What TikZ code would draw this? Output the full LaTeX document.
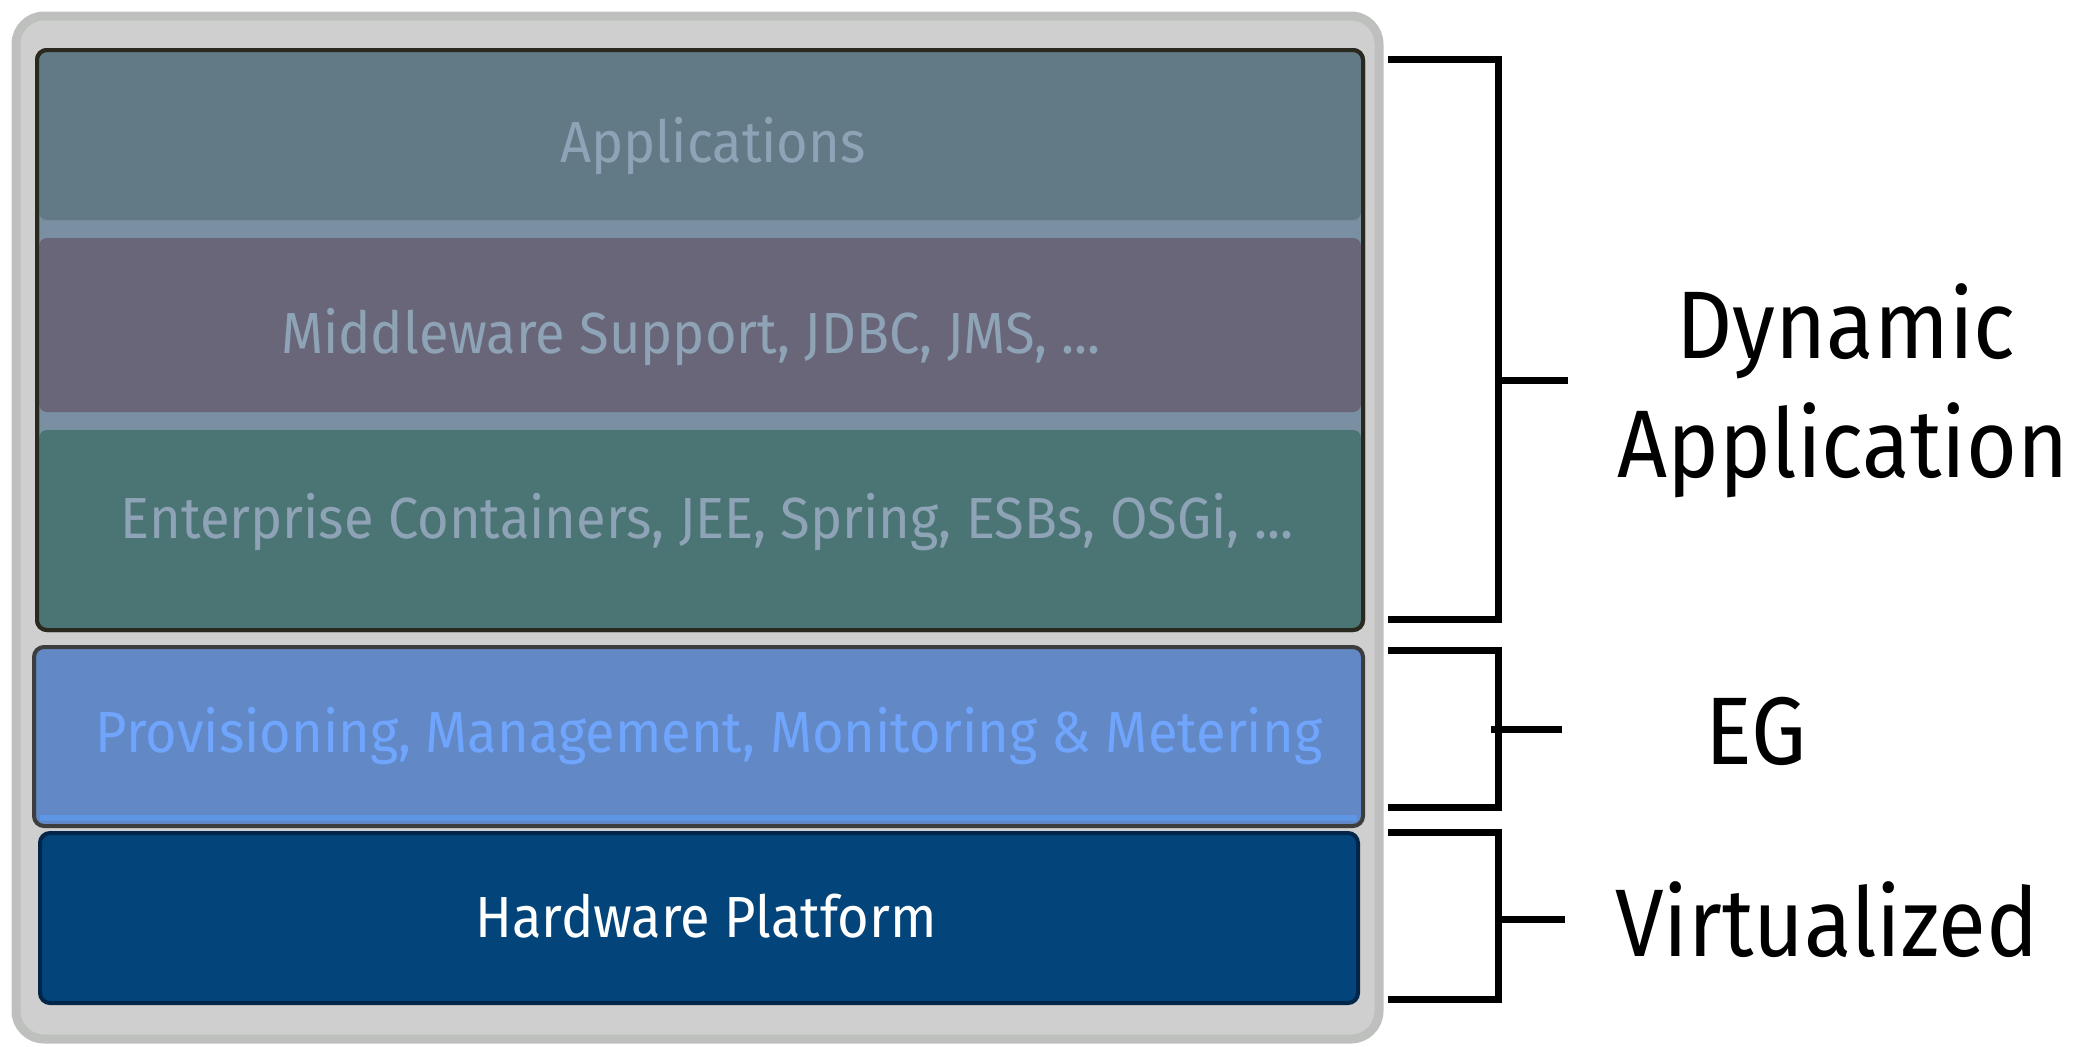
\documentclass[tikz,border=0pt]{standalone}
\usepackage{fontspec}
\setmainfont{Fira Sans}
\newfontfamily\boxfont[FakeStretch=0.935]{Fira Sans}
\newfontfamily\sidefont[FakeStretch=0.91]{Fira Sans}
\definecolor{outerfill}{HTML}{CFCFCF}
\definecolor{outerline}{HTML}{BEC0BE}
\definecolor{frameline}{HTML}{2A2920}
\definecolor{framefill}{HTML}{7B8FA3}
\definecolor{appfill}{HTML}{627986}
\definecolor{midfill}{HTML}{69667A}
\definecolor{entfill}{HTML}{4B7574}
\definecolor{paletext}{HTML}{8FA3B7}
\definecolor{provfill}{HTML}{6288C5}
\definecolor{provline}{HTML}{3D3D3D}
\definecolor{provhi}{HTML}{5E96E6}
\definecolor{provtext}{HTML}{6FA5FC}
\definecolor{hwfill}{HTML}{03457A}
\definecolor{hwline}{HTML}{02264A}
\begin{document}
\begin{tikzpicture}[x=0.5pt,y=-0.5pt,
  boxtext/.style={anchor=base, inner sep=0pt, font=\boxfont\fontsize{29}{30}\selectfont},
  sidetext/.style={anchor=base, inner sep=0pt, font=\sidefont\fontsize{48}{50}\selectfont},
  brace/.style={line width=3.5pt, black}]
\useasboundingbox (0,0) rectangle (2077,1046);
% outer panel
\draw[fill=outerfill, draw=outerline, line width=4.5pt, rounded corners=14pt] (16,16) rectangle (1379,1039);
% application frame
\draw[fill=framefill, draw=frameline, line width=2pt, rounded corners=5pt] (37,50) rectangle (1363,630);
\fill[appfill, rounded corners=4pt] (39,52) rectangle (1361,220);
\fill[midfill, rounded corners=4pt] (39,238) rectangle (1361,412);
\fill[entfill, rounded corners=4pt] (39,430) rectangle (1361,628);
\draw[frameline, line width=2pt, rounded corners=5pt] (37,50) rectangle (1363,630);
\node[boxtext, text=paletext] (apps) at (713,162) {Applications};
\node[boxtext, text=paletext] (mid) at (691,353) {Middleware Support, JDBC, JMS, ...};
\node[boxtext, text=paletext] (ent) at (707,538) {Enterprise Containers, JEE, Spring, ESBs, OSGi, ...};
% provisioning
\draw[fill=provfill, draw=provline, line width=2pt, rounded corners=5pt] (34,647) rectangle (1363,826);
\draw[provhi, line width=3pt] (40,818) -- (1357,818);
\node[boxtext, text=provtext] (prov) at (709,752) {Provisioning, Management, Monitoring \& Metering};
% hardware
\draw[fill=hwfill, draw=hwline, line width=2pt, rounded corners=5pt] (40,833) rectangle (1358,1003);
\node[boxtext, text=white] (hw) at (706,937) {Hardware Platform};
% brackets
\coordinate (da1) at (1388,59); \coordinate (da2) at (1388,619);
\coordinate (eg1) at (1388,650); \coordinate (eg2) at (1388,807);
\coordinate (vi1) at (1388,832); \coordinate (vi2) at (1388,999);
\draw[brace] (da1) -- (1498,59) -- (1498,619) -- (da2);
\draw[brace] (1498,380) -- (1568,380);
\draw[brace] (eg1) -- (1498,650) -- (1498,807) -- (eg2);
\draw[brace] (1491,729) -- (1562,729);
\draw[brace] (vi1) -- (1498,832) -- (1498,999) -- (vi2);
\draw[brace] (1498,919) -- (1565,919);
% side labels
\node[sidetext] (dyn) at (1846,358) {Dynamic};
\node[sidetext] (app) at (1843,477) {Application};
\node[sidetext] (eg) at (1756,764) {EG};
\node[sidetext] (virt) at (1827,956) {Virtualized};
\end{tikzpicture}
\end{document}
